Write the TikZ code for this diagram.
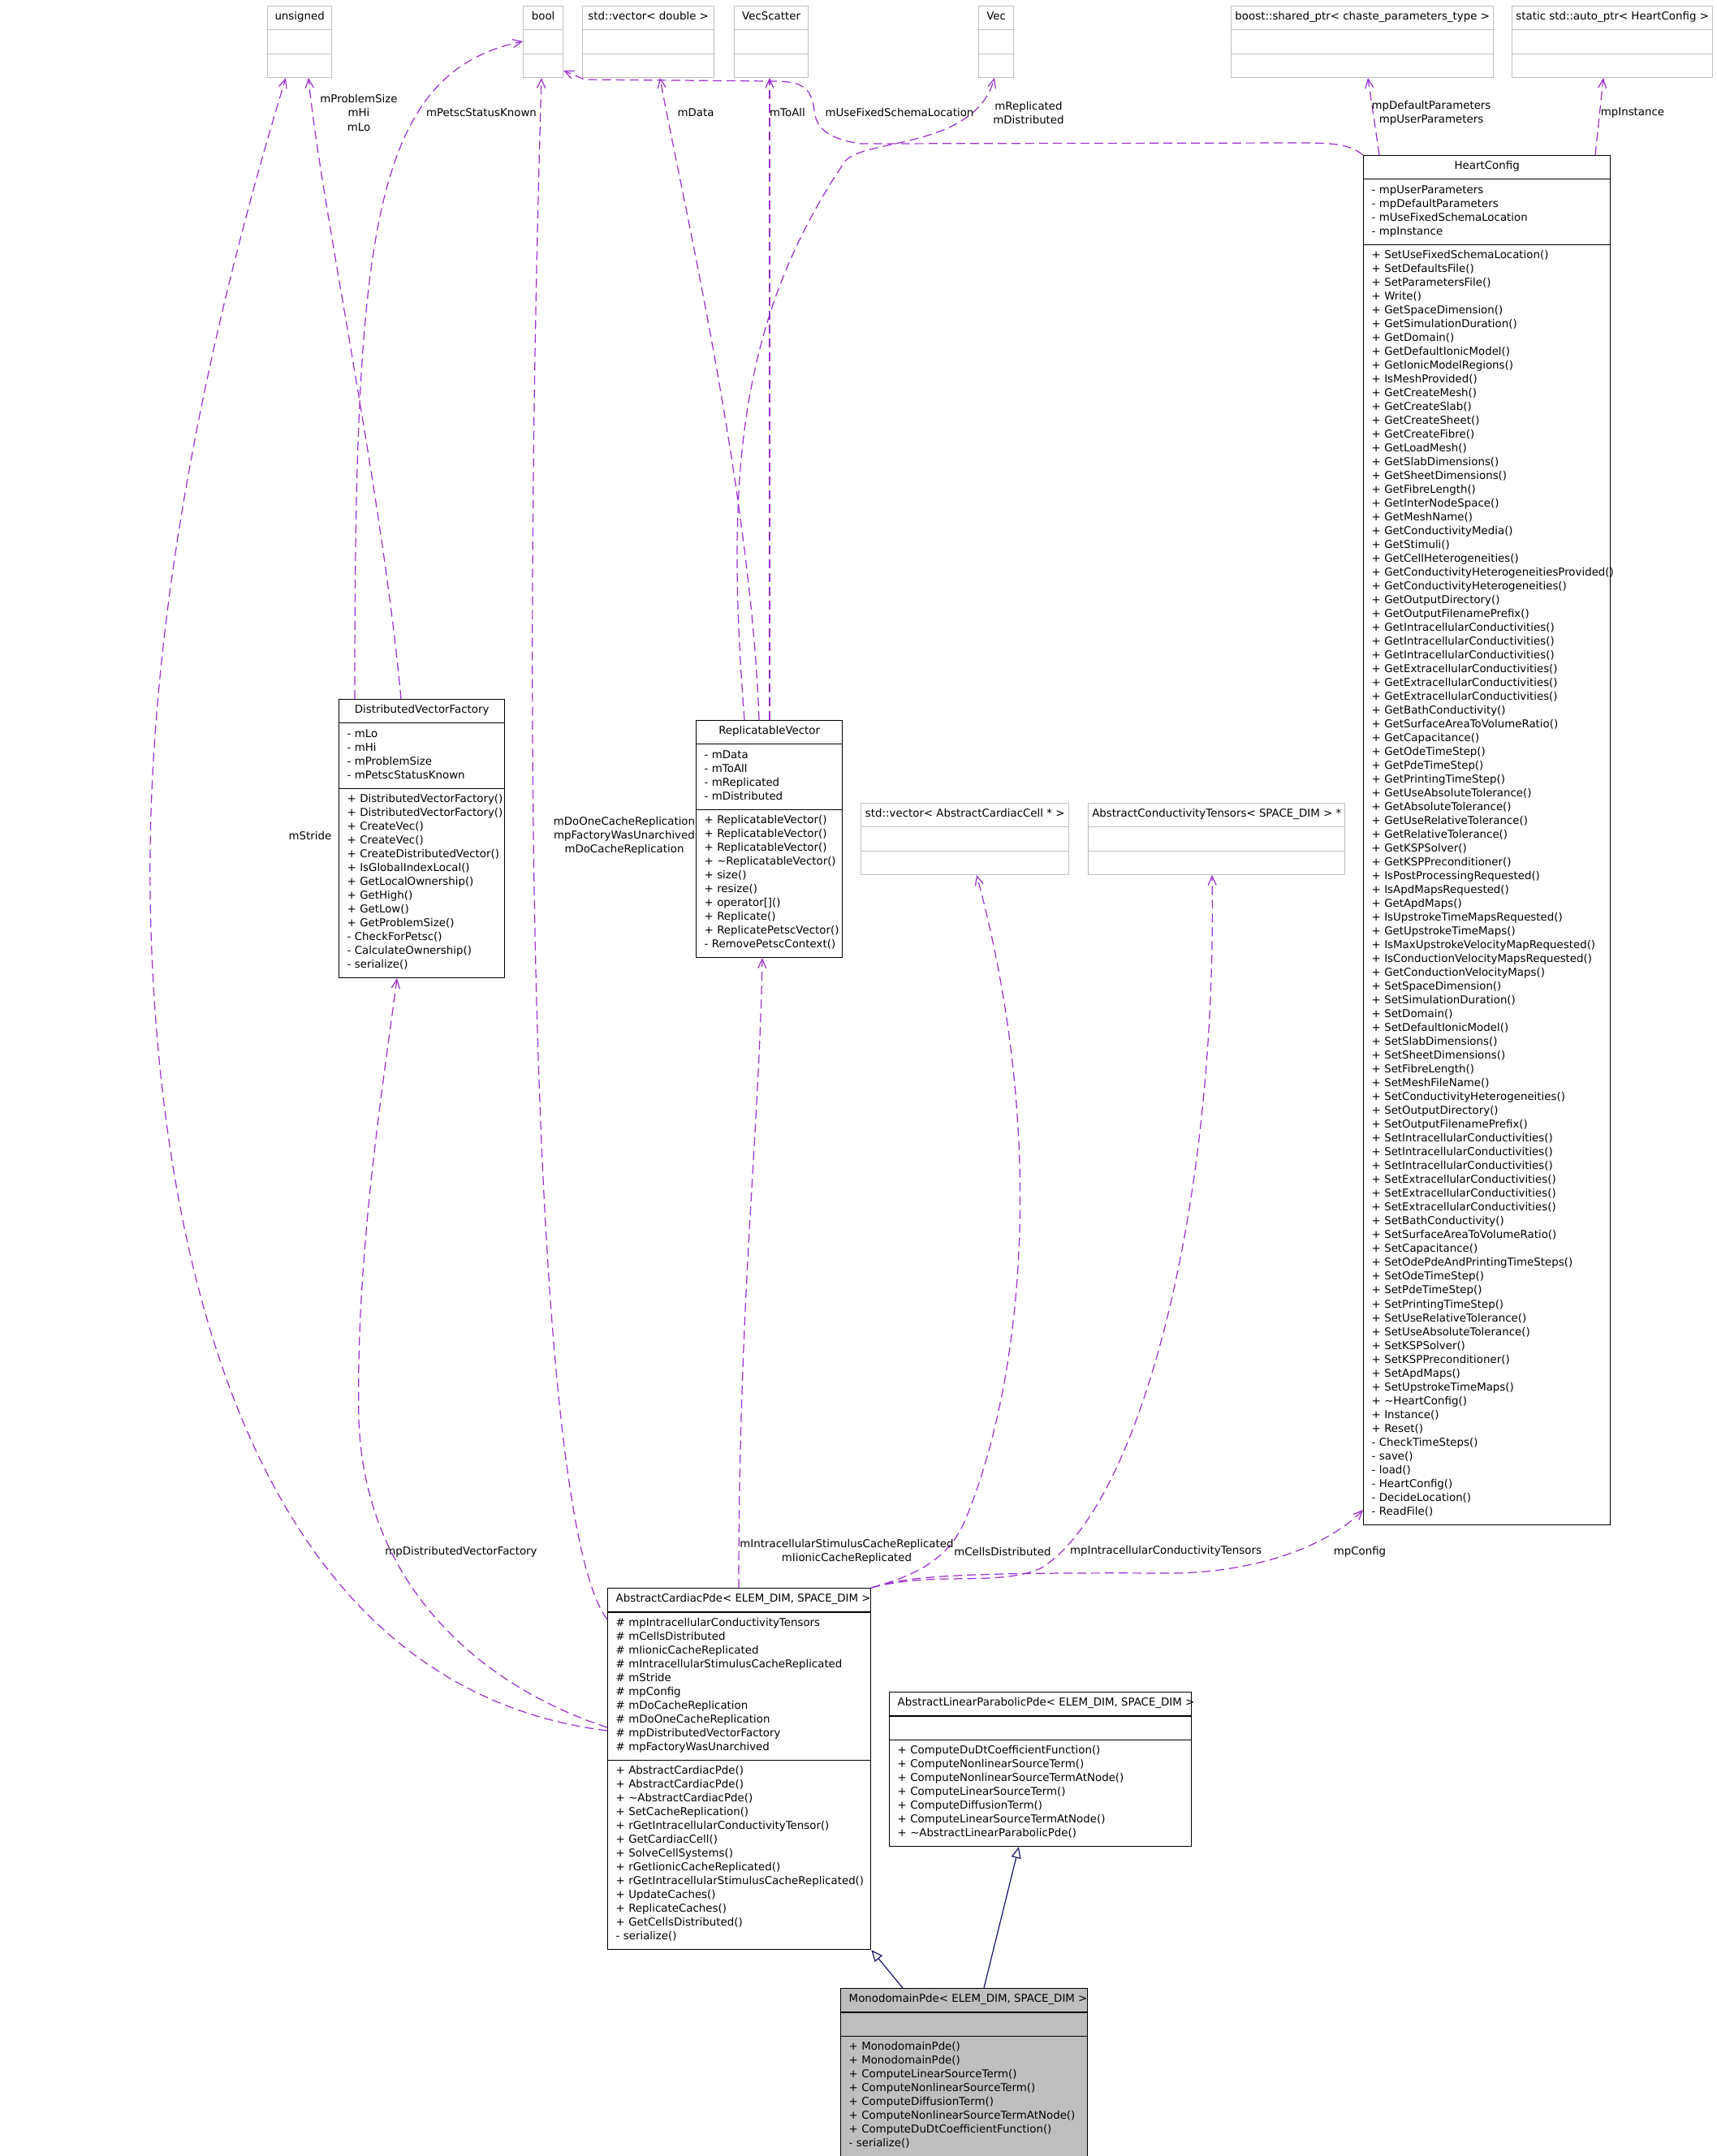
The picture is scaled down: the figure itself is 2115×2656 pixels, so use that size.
\documentclass[tikz,border=0pt]{standalone}
\usepackage{fontspec}
\newfontfamily\umlfamily[HyphenChar=None]{DejaVu Sans}
\usetikzlibrary{arrows.meta,shapes.multipart}
\definecolor{DepPurple}{HTML}{9A32CD}
\definecolor{InhBlue}{HTML}{191970}
\definecolor{BoxGray}{HTML}{BFBFBF}
\newcommand\umlfont{\umlfamily\fontsize{3.8pt}{0.17cm}\selectfont\lineskiplimit=-1cm\relax}
\newcommand\ustrut{\rule[-0.06cm]{0pt}{0.17cm}}

\begin{document}
\begin{tikzpicture}[x=0.01cm,y=-0.01cm,
    cls/.style={rectangle split,rectangle split parts=3,draw=black,line width=0.35pt,
      font=\umlfont,align=left,inner xsep=0.1cm,inner ysep=0.055cm,anchor=north west},
    ext/.style={cls,draw=BoxGray,inner xsep=0.04cm},
    ttl/.style={font=\umlfont,inner sep=0pt,text height=0.11cm,text depth=0.06cm,anchor=north},
    lbl/.style={font=\umlfont,align=center,inner sep=0pt},
    dep/.style={draw=DepPurple,line width=0.35pt,dash pattern=on 0.11cm off 0.06cm,
      -{Straight Barb[length=0.11cm,width=0.1cm]}},
    inh/.style={draw=InhBlue,line width=0.35pt,-{Triangle[open,length=0.14cm,width=0.12cm]}}]
  \useasboundingbox (0,0) rectangle (2115,2656);

  \node[ext,text width=0.71cm] (unsigned) at (329,7) {\ustrut\nodepart{second}\ustrut\nodepart{third}\ustrut};
  \node[ext,text width=0.41cm] (bool) at (644,7) {\ustrut\nodepart{second}\ustrut\nodepart{third}\ustrut};
  \node[ext,text width=1.54cm] (stdvecd) at (717,7) {\ustrut\nodepart{second}\ustrut\nodepart{third}\ustrut};
  \node[ext,text width=0.83cm] (vecscatter) at (904,7) {\ustrut\nodepart{second}\ustrut\nodepart{third}\ustrut};
  \node[ext,text width=0.35cm] (vec) at (1205,7) {\ustrut\nodepart{second}\ustrut\nodepart{third}\ustrut};
  \node[ext,text width=3.15cm] (boost) at (1516,7) {\ustrut\nodepart{second}\ustrut\nodepart{third}\ustrut};
  \node[ext,text width=2.39cm] (autoptr) at (1862,7) {\ustrut\nodepart{second}\ustrut\nodepart{third}\ustrut};
  \node[ext,text width=2.48cm] (cellvec) at (1060,989) {\ustrut\nodepart{second}\ustrut\nodepart{third}\ustrut};
  \node[ext,text width=3.08cm] (tensors) at (1340,989) {\ustrut\nodepart{second}\ustrut\nodepart{third}\ustrut};

  \node[ttl] (unsignedT) at ([yshift=-0.055cm]unsigned.north) {unsigned};
  \node[ttl] (boolT) at ([yshift=-0.055cm]bool.north) {bool};
  \node[ttl] (stdvecdT) at ([yshift=-0.055cm]stdvecd.north) {std::vector< double >};
  \node[ttl] (vecscatterT) at ([yshift=-0.055cm]vecscatter.north) {VecScatter};
  \node[ttl] (vecT) at ([yshift=-0.055cm]vec.north) {Vec};
  \node[ttl] (boostT) at ([yshift=-0.055cm]boost.north) {boost::shared\_ptr< chaste\_parameters\_type >};
  \node[ttl] (autoptrT) at ([yshift=-0.055cm]autoptr.north) {static std::auto\_ptr< HeartConfig >};
  \node[ttl] (cellvecT) at ([yshift=-0.055cm]cellvec.north) {std::vector< AbstractCardiacCell * >};
  \node[ttl] (tensorsT) at ([yshift=-0.055cm]tensors.north) {AbstractConductivityTensors< SPACE\_DIM > *};

  \node[cls,text width=2.84cm] (hc) at (1679,191) {\ustrut
    \nodepart{second}\ustrut -~mpUserParameters\\-~mpDefaultParameters\\-~mUseFixedSchemaLocation\\-~mpInstance\ustrut
    \nodepart{third}\ustrut +~SetUseFixedSchemaLocation()\\+~SetDefaultsFile()\\+~SetParametersFile()\\+~Write()\\
    +~GetSpaceDimension()\\+~GetSimulationDuration()\\+~GetDomain()\\+~GetDefaultIonicModel()\\
    +~GetIonicModelRegions()\\+~IsMeshProvided()\\+~GetCreateMesh()\\+~GetCreateSlab()\\
    +~GetCreateSheet()\\+~GetCreateFibre()\\+~GetLoadMesh()\\+~GetSlabDimensions()\\
    +~GetSheetDimensions()\\+~GetFibreLength()\\+~GetInterNodeSpace()\\+~GetMeshName()\\
    +~GetConductivityMedia()\\+~GetStimuli()\\+~GetCellHeterogeneities()\\
    +~GetConductivityHeterogeneitiesProvided()\\+~GetConductivityHeterogeneities()\\
    +~GetOutputDirectory()\\+~GetOutputFilenamePrefix()\\+~GetIntracellularConductivities()\\
    +~GetIntracellularConductivities()\\+~GetIntracellularConductivities()\\
    +~GetExtracellularConductivities()\\+~GetExtracellularConductivities()\\
    +~GetExtracellularConductivities()\\+~GetBathConductivity()\\+~GetSurfaceAreaToVolumeRatio()\\
    +~GetCapacitance()\\+~GetOdeTimeStep()\\+~GetPdeTimeStep()\\+~GetPrintingTimeStep()\\
    +~GetUseAbsoluteTolerance()\\+~GetAbsoluteTolerance()\\+~GetUseRelativeTolerance()\\
    +~GetRelativeTolerance()\\+~GetKSPSolver()\\+~GetKSPPreconditioner()\\
    +~IsPostProcessingRequested()\\+~IsApdMapsRequested()\\+~GetApdMaps()\\
    +~IsUpstrokeTimeMapsRequested()\\+~GetUpstrokeTimeMaps()\\+~IsMaxUpstrokeVelocityMapRequested()\\
    +~IsConductionVelocityMapsRequested()\\+~GetConductionVelocityMaps()\\+~SetSpaceDimension()\\
    +~SetSimulationDuration()\\+~SetDomain()\\+~SetDefaultIonicModel()\\+~SetSlabDimensions()\\
    +~SetSheetDimensions()\\+~SetFibreLength()\\+~SetMeshFileName()\\
    +~SetConductivityHeterogeneities()\\+~SetOutputDirectory()\\+~SetOutputFilenamePrefix()\\
    +~SetIntracellularConductivities()\\+~SetIntracellularConductivities()\\
    +~SetIntracellularConductivities()\\+~SetExtracellularConductivities()\\
    +~SetExtracellularConductivities()\\+~SetExtracellularConductivities()\\
    +~SetBathConductivity()\\+~SetSurfaceAreaToVolumeRatio()\\+~SetCapacitance()\\
    +~SetOdePdeAndPrintingTimeSteps()\\+~SetOdeTimeStep()\\+~SetPdeTimeStep()\\
    +~SetPrintingTimeStep()\\+~SetUseRelativeTolerance()\\+~SetUseAbsoluteTolerance()\\
    +~SetKSPSolver()\\+~SetKSPPreconditioner()\\+~SetApdMaps()\\+~SetUpstrokeTimeMaps()\\
    +~\textasciitilde HeartConfig()\\+~Instance()\\+~Reset()\\-~CheckTimeSteps()\\-~save()\\
    -~load()\\-~HeartConfig()\\-~DecideLocation()\\-~ReadFile()\ustrut};
  \node[ttl] (hcT) at ([yshift=-0.055cm]hc.north) {HeartConfig};

  \node[cls,text width=1.84cm] (dvf) at (417,861) {\ustrut
    \nodepart{second}\ustrut -~mLo\\-~mHi\\-~mProblemSize\\-~mPetscStatusKnown\ustrut
    \nodepart{third}\ustrut +~DistributedVectorFactory()\\+~DistributedVectorFactory()\\
    +~CreateVec()\\+~CreateVec()\\+~CreateDistributedVector()\\+~IsGlobalIndexLocal()\\
    +~GetLocalOwnership()\\+~GetHigh()\\+~GetLow()\\+~GetProblemSize()\\-~CheckForPetsc()\\
    -~CalculateOwnership()\\-~serialize()\ustrut};
  \node[ttl] (dvfT) at ([yshift=-0.055cm]dvf.north) {DistributedVectorFactory};

  \node[cls,text width=1.60cm] (rv) at (857,887) {\ustrut
    \nodepart{second}\ustrut -~mData\\-~mToAll\\-~mReplicated\\-~mDistributed\ustrut
    \nodepart{third}\ustrut +~ReplicatableVector()\\+~ReplicatableVector()\\+~ReplicatableVector()\\
    +~\textasciitilde ReplicatableVector()\\+~size()\\+~resize()\\+~operator[]()\\+~Replicate()\\
    +~ReplicatePetscVector()\\-~RemovePetscContext()\ustrut};
  \node[ttl] (rvT) at ([yshift=-0.055cm]rv.north) {ReplicatableVector};

  \node[cls,text width=3.04cm] (acp) at (748,1956) {\ustrut
    \nodepart{second}\ustrut \#~mpIntracellularConductivityTensors\\\#~mCellsDistributed\\
    \#~mIionicCacheReplicated\\\#~mIntracellularStimulusCacheReplicated\\\#~mStride\\\#~mpConfig\\
    \#~mDoCacheReplication\\\#~mDoOneCacheReplication\\\#~mpDistributedVectorFactory\\
    \#~mpFactoryWasUnarchived\ustrut
    \nodepart{third}\ustrut +~AbstractCardiacPde()\\+~AbstractCardiacPde()\\
    +~\textasciitilde AbstractCardiacPde()\\+~SetCacheReplication()\\
    +~rGetIntracellularConductivityTensor()\\+~GetCardiacCell()\\+~SolveCellSystems()\\
    +~rGetIionicCacheReplicated()\\+~rGetIntracellularStimulusCacheReplicated()\\
    +~UpdateCaches()\\+~ReplicateCaches()\\+~GetCellsDistributed()\\-~serialize()\ustrut};
  \node[ttl,anchor=north west] (acpT) at ([xshift=0.1cm,yshift=-0.055cm]acp.north west) {AbstractCardiacPde< ELEM\_DIM, SPACE\_DIM >};

  \node[cls,text width=3.52cm] (alpp) at (1095,2084) {\ustrut
    \nodepart{second}\ustrut
    \nodepart{third}\ustrut +~ComputeDuDtCoefficientFunction()\\+~ComputeNonlinearSourceTerm()\\
    +~ComputeNonlinearSourceTermAtNode()\\+~ComputeLinearSourceTerm()\\+~ComputeDiffusionTerm()\\
    +~ComputeLinearSourceTermAtNode()\\+~\textasciitilde AbstractLinearParabolicPde()\ustrut};
  \node[ttl,anchor=north west] (alppT) at ([xshift=0.1cm,yshift=-0.055cm]alpp.north west) {AbstractLinearParabolicPde< ELEM\_DIM, SPACE\_DIM >};

  \node[cls,fill=BoxGray,text width=2.84cm] (mono) at (1035,2449) {\ustrut
    \nodepart{second}\ustrut
    \nodepart{third}\ustrut +~MonodomainPde()\\+~MonodomainPde()\\+~ComputeLinearSourceTerm()\\
    +~ComputeNonlinearSourceTerm()\\+~ComputeDiffusionTerm()\\+~ComputeNonlinearSourceTermAtNode()\\
    +~ComputeDuDtCoefficientFunction()\\-~serialize()\ustrut};
  \node[ttl,anchor=north west] (monoT) at ([xshift=0.1cm,yshift=-0.055cm]mono.north west) {MonodomainPde< ELEM\_DIM, SPACE\_DIM >};

  \draw[dep] (acp.west |- 0,2132) .. controls (290,2075) and (190,1500) .. (185,1100)
    .. controls (180,700) and (290,300) .. (352,0 |- unsigned.south);
  \draw[dep] (494,0 |- dvf.north) .. controls (470,600) and (395,250) .. (380,0 |- unsigned.south);
  \draw[dep] (437,0 |- dvf.north) .. controls (437,300) and (455,90) .. (bool.west |- 0,51);
  \draw[dep] (acp.west |- 0,1995) .. controls (660,1880) and (640,1000) .. (667,0 |- bool.south);
  \draw[dep] (hc.north west) .. controls (1662,177) and (1640,176) .. (1600,176) -- (1060,177)
    .. controls (1010,170) and (1005,150) .. (1003,137) .. controls (1000,105) and (985,100) .. (950,100)
    -- (720,98) -- (bool.east |- 0,87);
  \draw[dep] (935,0 |- rv.north) .. controls (925,600) and (835,220) .. (813,0 |- stdvecd.south);
  \draw[dep] (948,0 |- rv.north) -- (948,0 |- vecscatter.south);
  \draw[dep] (917,0 |- rv.north) .. controls (895,600) and (905,400) .. (1040,200)
    .. controls (1060,170) and (1200,185) .. (1225,0 |- vec.south);
  \draw[dep] (1699,0 |- hc.north) -- (1685,0 |- boost.south);
  \draw[dep] (1965,0 |- hc.north) -- (1975,0 |- autoptr.south);
  \draw[dep] (acp.west |- 0,2128) .. controls (600,2080) and (450,1960) .. (442,1750)
    .. controls (438,1550) and (470,1350) .. (489,0 |- dvf.south);
  \draw[dep] (910,0 |- acp.north) .. controls (910,1600) and (935,1400) .. (939,0 |- rv.south);
  \draw[dep] (acp.north east) .. controls (1130,1940) and (1170,1920) .. (1190,1870)
    .. controls (1260,1700) and (1290,1400) .. (1203,0 |- cellvec.south);
  \draw[dep] (acp.north east) .. controls (1150,1935) and (1230,1955) .. (1282,1932)
    .. controls (1400,1860) and (1500,1500) .. (1493,0 |- tensors.south);
  \draw[dep] (acp.north east) .. controls (1120,1940) and (1200,1937) .. (1450,1938)
    .. controls (1560,1935) and (1640,1900) .. (hc.west |- 0,1860);
  \draw[inh] (1112,0 |- mono.north) -- (acp.south east);
  \draw[inh] (1212,0 |- mono.north) -- (1255,0 |- alpp.south);

  \node[lbl] (lProb) at (442,139) {mProblemSize\\mHi\\mLo};
  \node[lbl] (lPetsc) at (593,139) {mPetscStatusKnown};
  \node[lbl] (lData) at (857,139) {mData};
  \node[lbl] (lToAll) at (970,139) {mToAll};
  \node[lbl] (lSchema) at (1108,139) {mUseFixedSchemaLocation};
  \node[lbl] (lRepl) at (1267,139) {mReplicated\\mDistributed};
  \node[lbl] (lParams) at (1763,139) {mpDefaultParameters\\mpUserParameters};
  \node[lbl] (lInst) at (2011,139) {mpInstance};
  \node[lbl] (lStride) at (382,1029) {mStride};
  \node[lbl] (lCache) at (769,1030) {mDoOneCacheReplication\\mpFactoryWasUnarchived\\mDoCacheReplication};
  \node[lbl] (lFactory) at (568,1912) {mpDistributedVectorFactory};
  \node[lbl] (lStim) at (1043,1911) {mIntracellularStimulusCacheReplicated\\mIionicCacheReplicated};
  \node[lbl] (lCells) at (1235,1911) {mCellsDistributed};
  \node[lbl] (lTensors) at (1436,1911) {mpIntracellularConductivityTensors};
  \node[lbl] (lConfig) at (1675,1912) {mpConfig};
\end{tikzpicture}
\end{document}
